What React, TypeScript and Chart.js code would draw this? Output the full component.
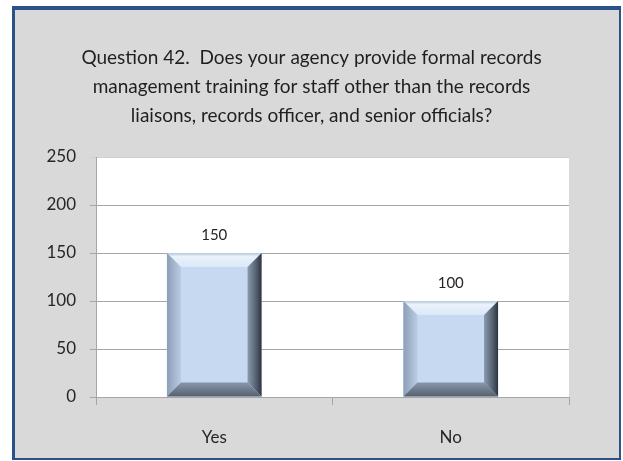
import React, { useEffect, useRef } from "react";
import { Chart, registerables } from "chart.js";

Chart.register(...registerables);

const titleLines = [
  "Question 42.  Does your agency provide formal records",
  "management training for staff other than the records",
  "liaisons, records officer, and senior officials?",
];
const categories = ["Yes", "No"];
const values = [150, 100];
const yMin = 0;
const yMax = 250;
const yStep = 50;

const FONT = "Lato, 'Open Sans', sans-serif";

const plotBg = {
  id: "plotBg",
  beforeDraw(chart: any) {
    const { ctx, chartArea } = chart;
    ctx.save();
    ctx.fillStyle = "#ffffff";
    ctx.fillRect(chartArea.left, chartArea.top, chartArea.right - chartArea.left, chartArea.bottom - chartArea.top);
    ctx.restore();
  },
};

const bevelBars = {
  id: "bevelBars",
  afterDatasetsDraw(chart: any) {
    const { ctx } = chart;
    const meta = chart.getDatasetMeta(0);
    meta.data.forEach((bar: any) => {
      const p = bar.getProps(["x", "y", "base", "width"], true);
      const l = p.x - p.width / 2;
      const r = p.x + p.width / 2;
      const t = Math.min(p.y, p.base);
      const b = Math.max(p.y, p.base);
      const s = Math.min(14, p.width / 4, (b - t) / 4);
      ctx.save();
      ctx.fillStyle = "#c6d9f0";
      ctx.fillRect(l, t, r - l, b - t);
      const poly = (pts: number[][], fill: any) => {
        ctx.beginPath();
        ctx.moveTo(pts[0][0], pts[0][1]);
        for (let k = 1; k < pts.length; k++) ctx.lineTo(pts[k][0], pts[k][1]);
        ctx.closePath();
        ctx.fillStyle = fill;
        ctx.fill();
      };
      let g = ctx.createLinearGradient(0, t, 0, t + s);
      g.addColorStop(0, "#b4c7dd");
      g.addColorStop(0.25, "#e9f2fc");
      g.addColorStop(1, "#dbe8f7");
      poly([[l, t], [r, t], [r - s, t + s], [l + s, t + s]], g);
      g = ctx.createLinearGradient(l, 0, l + s, 0);
      g.addColorStop(0, "#8c9fb6");
      g.addColorStop(1, "#b9cce3");
      poly([[l, t], [l + s, t + s], [l + s, b - s], [l, b]], g);
      g = ctx.createLinearGradient(r - s, 0, r, 0);
      g.addColorStop(0, "#8a9bb0");
      g.addColorStop(0.7, "#4d5866");
      g.addColorStop(1, "#2c333c");
      poly([[r, t], [r, b], [r - s, b - s], [r - s, t + s]], g);
      g = ctx.createLinearGradient(0, b - s, 0, b);
      g.addColorStop(0, "#8797ab");
      g.addColorStop(1, "#56616f");
      poly([[l, b], [r, b], [r - s, b - s], [l + s, b - s]], g);
      ctx.restore();
    });
  },
};

const dataLabels = {
  id: "dataLabels",
  afterDatasetsDraw(chart: any) {
    const { ctx } = chart;
    const meta = chart.getDatasetMeta(0);
    ctx.save();
    ctx.font = `15px ${FONT}`;
    ctx.fillStyle = "#262626";
    ctx.textAlign = "center";
    ctx.textBaseline = "middle";
    meta.data.forEach((bar: any, i: number) => {
      const p = bar.getProps(["x", "y"], true);
      ctx.fillText(String(values[i]), p.x, p.y - 18);
    });
    ctx.restore();
  },
};

export default function App() {
  const ref = useRef<HTMLCanvasElement>(null);
  useEffect(() => {
    if (!ref.current) return;
    const chart = new Chart(ref.current, {
      type: "bar",
      data: {
        labels: categories,
        datasets: [
          {
            data: values,
            backgroundColor: "#c6d9f0",
            borderWidth: 0,
            categoryPercentage: 1,
            barPercentage: 0.4,
          },
        ],
      },
      options: {
        animation: false,
        responsive: false,
        events: [],
        layout: { padding: { left: 0, right: 0, top: 0, bottom: 0 } },
        plugins: {
          legend: { display: false },
          tooltip: { enabled: false },
          title: {
            display: true,
            text: titleLines,
            color: "#1f1f1f",
            font: { family: FONT, size: 19, weight: "normal", lineHeight: 29 / 19 },
            padding: { top: 43.5, bottom: 26.5 },
          },
        },
        scales: {
          x: {
            afterFit: (s: any) => {
              s.height = 64;
            },
            grid: {
              drawOnChartArea: false,
              drawTicks: true,
              tickLength: 8,
              color: "#a6a6a6",
            },
            border: { display: true, color: "#a6a6a6" },
            ticks: {
              color: "#262626",
              font: { family: FONT, size: 17 },
              padding: 22,
            },
          },
          y: {
            min: yMin,
            max: yMax,
            afterFit: (s: any) => {
              s.width = 96;
            },
            grid: {
              color: (c: any) => (c.tick && c.tick.value === yMax ? "#d0d0d0" : "#a6a6a6"),
              tickLength: 6,
            },
            border: { display: true, color: "#a6a6a6" },
            ticks: {
              stepSize: yStep,
              color: "#262626",
              font: { family: FONT, size: 17 },
              padding: 14,
            },
          },
          yRight: {
            position: "right",
            min: yMin,
            max: yMax,
            afterFit: (s: any) => {
              s.width = 54;
            },
            grid: { display: false },
            border: { display: false },
            ticks: { display: false },
          },
        },
      },
      plugins: [plotBg, bevelBars, dataLabels],
    });
    return () => chart.destroy();
  }, []);

  return (
    <div style={{ position: "absolute", left: 0, top: 0, width: 623, height: 461, background: "#ffffff" }}>
      <div
        style={{
          position: "absolute",
          left: 12,
          top: 6,
          width: 609,
          height: 454,
          boxSizing: "border-box",
          background: "#d9d9d9",
          borderStyle: "solid",
          borderColor: "#2a5288",
          borderWidth: "4px 2px 2px 3px",
        }}
      />
      <canvas ref={ref} width={623} height={461} style={{ position: "absolute", left: 0, top: 0, width: 623, height: 461 }} />
    </div>
  );
}
